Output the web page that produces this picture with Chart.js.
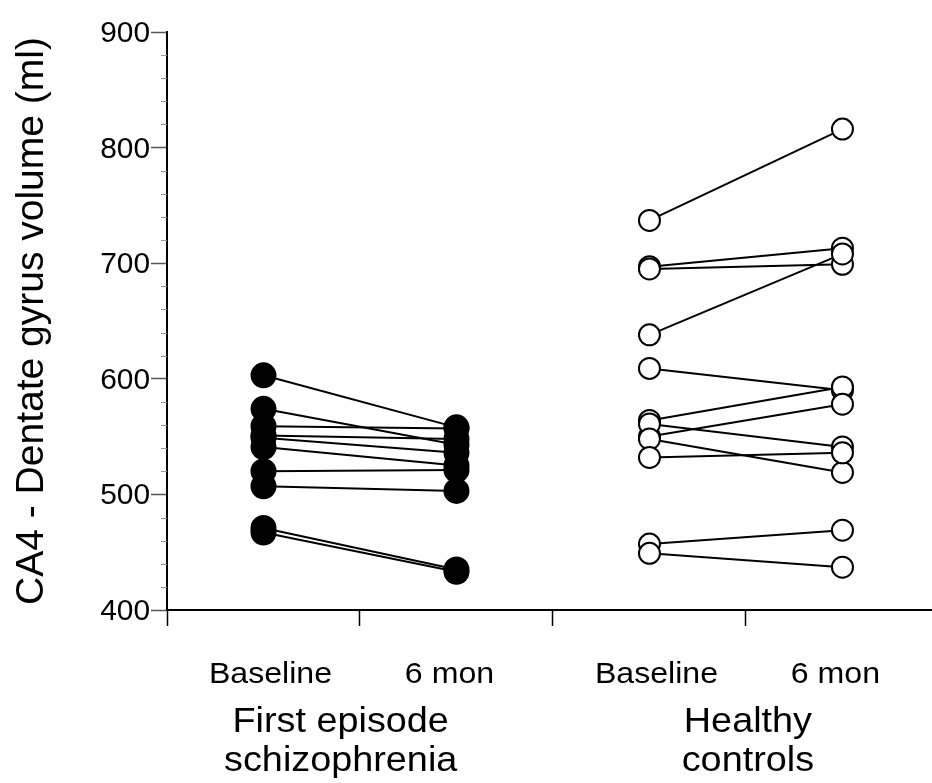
<!DOCTYPE html>
<html>
<head>
<meta charset="utf-8">
<script src="https://cdn.jsdelivr.net/npm/chart.js@4.4.1/dist/chart.umd.min.js"></script>
<style>
  html, body { margin: 0; padding: 0; background: #fff; }
  #wrap { width: 932px; height: 783px; }
</style>
</head>
<body>
<div id="wrap"><canvas id="chart" width="932" height="783"></canvas></div>
<script>
// --- datos ---
const timeLabels = ['Baseline', '6 mon', 'Baseline', '6 mon'];
const groupNames = [['First episode', 'schizophrenia'], ['Healthy', 'controls']];
const yTickValues = [400, 500, 600, 700, 800, 900];

// First episode schizophrenia (círculos rellenos)
const fesBaseline = [603, 574, 559, 551, 549, 541, 520, 507, 471, 467];
const fes6mon     = [558, 543, 557, 548, 536, 525, 521, 503, 435, 433];

// Healthy controls (círculos abiertos)
const hcBaseline = [737, 697, 695, 638, 609, 564, 550, 561, 548, 532, 457, 449];
const hc6mon     = [816, 713, 699, 708, 590, 593, 578, 541, 519, 536, 469, 437];

const FONT = '"Liberation Sans", Arial, Helvetica, sans-serif';

// cada sujeto = una línea entre sus dos tiempos
function subjectLines(base, follow, xBase) {
    return base.map((b, i) => ({
        type: 'line',
        data: [{ x: xBase, y: b }, { x: xBase + 1, y: follow[i] }],
        borderColor: '#000',
        borderWidth: 2,
        pointRadius: 0,
        showLine: true,
        order: 2
    }));
}

function pointSet(values, x, filled) {
    return {
        type: 'scatter',
        data: values.map(v => ({ x, y: v })),
        showLine: false,
        pointRadius: filled ? 12 : 10.5,
        pointBorderWidth: 2,
        pointBackgroundColor: filled ? '#000' : '#fff',
        pointBorderColor: '#000',
        order: 1
    };
}

const datasets = [
    ...subjectLines(fesBaseline, fes6mon, 0.5),
    ...subjectLines(hcBaseline, hc6mon, 2.5),
    pointSet(fesBaseline, 0.5, true),
    pointSet(fes6mon, 1.5, true),
    pointSet(hcBaseline, 2.5, false),
    pointSet(hc6mon, 3.5, false)
];

// texto algo ancho, como en la figura original
function wideText(ctx, text, x, y, size, sx, align) {
    ctx.save();
    ctx.font = size + 'px ' + FONT;
    ctx.textAlign = align;
    ctx.textBaseline = 'alphabetic';
    ctx.translate(x, y);
    ctx.scale(sx, 1);
    ctx.fillText(text, 0, 0);
    ctx.restore();
}

// marcas menores del eje Y, etiquetas de ticks y de grupo
const extras = {
    id: 'extras',
    afterDraw(chart) {
        const { ctx, scales: { x, y } } = chart;
        ctx.save();
        ctx.strokeStyle = '#999';
        ctx.lineWidth = 1;
        for (let v = 420; v < 900; v += 20) {
            if (v % 100 === 0) continue;
            const py = Math.round(y.getPixelForValue(v)) + 0.5;
            ctx.beginPath();
            ctx.moveTo(x.left - 6, py);
            ctx.lineTo(x.left, py);
            ctx.stroke();
        }
        ctx.fillStyle = '#000';
        // etiquetas del eje Y
        y.ticks.forEach(t => {
            wideText(ctx, String(t.value), x.left - 17, y.getPixelForValue(t.value) + 10, 29, 1.03, 'right');
        });
        // Baseline / 6 mon
        timeLabels.forEach((t, i) => {
            const shift = i % 2 === 0 ? 7 : -7;
            wideText(ctx, t, x.getPixelForValue(i + 0.5) + shift, 683, 30, 1.07, 'center');
        });
        // grupos
        const centers = [0.9, 3.01];
        groupNames.forEach((lines, g) => {
            const cx = x.getPixelForValue(centers[g]);
            lines.forEach((t, k) => wideText(ctx, t, cx, 732 + k * 39, 35, 1.08, 'center'));
        });
        ctx.restore();
    }
};

new Chart(document.getElementById('chart'), {
    type: 'scatter',
    data: { datasets },
    plugins: [extras],
    options: {
        responsive: false,
        devicePixelRatio: 1,
        animation: false,
        layout: { autoPadding: false, padding: { top: 32, right: 0, bottom: 0, left: 0 } },
        plugins: { legend: { display: false }, tooltip: { enabled: false } },
        elements: { point: { hoverRadius: 12 } },
        clip: false,
        scales: {
            x: {
                type: 'linear',
                min: 0,
                max: 3.964,
                afterBuildTicks: (scale) => {
                    scale.ticks = [0, 1, 2, 3].map(v => ({ value: v }));
                },
                afterFit: (scale) => {
                    scale.height = 173;
                    scale.paddingLeft = 0;
                    scale.paddingRight = 0;
                },
                border: { color: '#000', width: 2 },
                grid: {
                    drawOnChartArea: false,
                    tickLength: 16,
                    tickWidth: 1.5,
                    tickColor: '#000'
                },
                ticks: {
                    color: '#000',
                    maxRotation: 0,
                    autoSkip: false,
                    callback: () => ''
                }
            },
            y: {
                min: 400,
                max: 900,
                afterBuildTicks: (scale) => {
                    scale.ticks = yTickValues.map(v => ({ value: v }));
                },
                afterFit: (scale) => { scale.width = 167; },
                border: { color: '#000', width: 2 },
                grid: {
                    drawOnChartArea: false,
                    tickLength: 16,
                    tickWidth: 1.5,
                    tickColor: '#555'
                },
                ticks: {
                    color: '#000',
                    callback: () => ''
                },
                title: {
                    display: true,
                    text: 'CA4 - Dentate gyrus volume (ml)',
                    color: '#000',
                    font: { family: FONT, size: 39 },
                    padding: { top: 9, bottom: 0 }
                }
            }
        }
    }
});
</script>
</body>
</html>
